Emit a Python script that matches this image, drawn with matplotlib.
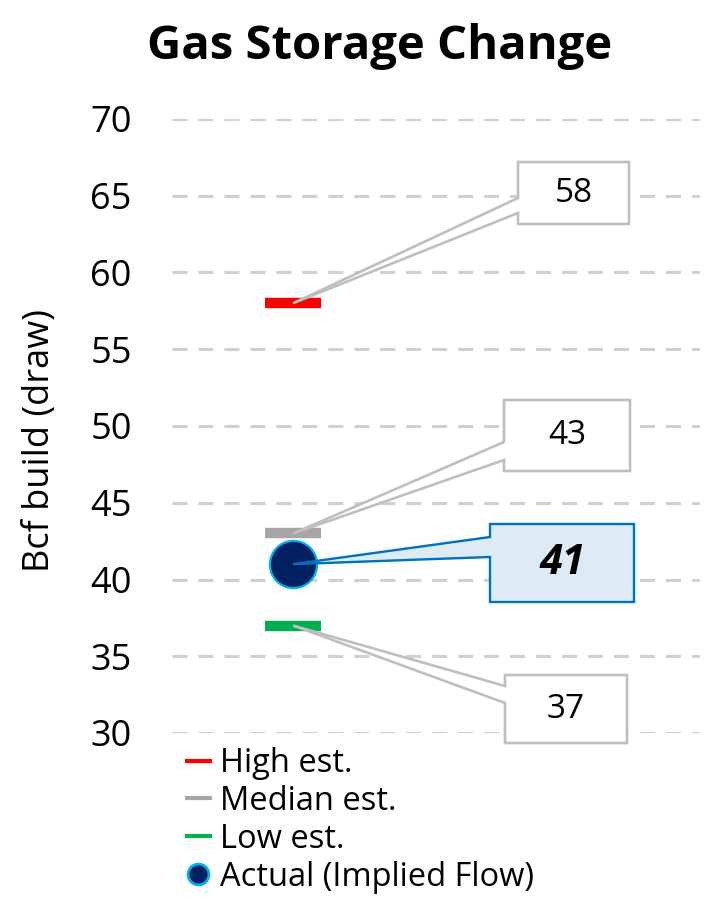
import matplotlib
matplotlib.use("Agg")
import matplotlib.pyplot as plt
from matplotlib.lines import Line2D
from matplotlib.patches import Polygon

# data
series_names = ["High est.", "Median est.", "Low est."]
series_values = [58, 43, 37]
series_colors = ["#FF0000", "#A6A6A6", "#00B050"]
actual_name = "Actual (Implied Flow)"
actual_value = 41
y_ticks = [30, 35, 40, 45, 50, 55, 60, 65, 70]

plt.rcParams['font.family'] = ['Open Sans', 'DejaVu Sans']

fig = plt.figure(figsize=(7.05, 9.0), dpi=100)
ax = fig.add_axes([172 / 705, 1 - 733 / 900, (700 - 172) / 705, (733 - 119) / 900])

X = 0
ax.set_xlim(-0.5, 1.68)
ax.set_ylim(30, 70)

# dashed horizontal grid
for t in y_ticks:
    ax.axhline(t, color="#D0D0D0", lw=2.2, ls=(0, (4.9, 3.6)), zorder=0)

# estimate bars
for v, c in zip(series_values, series_colors):
    ax.plot([X], [v], marker="_", markersize=41, markeredgewidth=7.5, color=c, ls="none", zorder=3)

# actual point
ax.plot([X], [actual_value], marker="o", markersize=34, markerfacecolor="#002060",
        markeredgecolor="#00B0F0", markeredgewidth=1.6, ls="none", zorder=4)

ax.set_yticks(y_ticks)
ax.set_yticklabels([str(t) for t in y_ticks], fontsize=26)
ax.tick_params(axis="y", length=0, pad=29)
ax.set_xticks([])
for s in ax.spines.values():
    s.set_visible(False)

ax.set_ylabel("Bcf build (draw)", fontsize=26)
ax.yaxis.set_label_coords(-(172 - 58) / 528, (733 - 441) / 614)
fig.text(380 / 705, 1 - 47 / 900, "Gas Storage Change", ha="center", va="center",
         fontsize=34, fontweight="bold")


# callout: rectangle with a wedge pointing to the data point (box in pixels of the axes)
def px_to_axes(px, py):
    return ((px - 172) / 528, (733 - py) / 614)


def callout(value, box, wedge, text, edge, face, lw, style):
    left, top, right, bottom = box
    w_hi, w_lo = wedge
    tip = ax.transAxes.inverted().transform(ax.transData.transform((X, value)))
    pts = [px_to_axes(left, top), px_to_axes(right, top), px_to_axes(right, bottom),
           px_to_axes(left, bottom), px_to_axes(left, w_lo), tuple(tip), px_to_axes(left, w_hi)]
    ax.add_patch(Polygon(pts, closed=True, transform=ax.transAxes, facecolor=face,
                         edgecolor=edge, lw=lw, clip_on=False, zorder=5, joinstyle="miter"))
    cx, cy = px_to_axes((left + right) / 2, (top + bottom) / 2)
    ax.text(cx, cy, text, transform=ax.transAxes, ha="center", va="center", zorder=6, **style)


plain = dict(fontsize=24, color="black")
callout(series_values[0], (518, 162, 629, 224), (198, 213), str(series_values[0]),
        "#BFBFBF", "white", 1.9, plain)
callout(series_values[1], (504, 400, 630, 471), (442, 460), str(series_values[1]),
        "#BFBFBF", "white", 1.9, plain)
callout(series_values[2], (505, 675, 627, 743), (686, 703), str(series_values[2]),
        "#BFBFBF", "white", 1.9, plain)
callout(actual_value, (490, 524, 634, 602), (537, 557), str(actual_value),
        "#0070C0", "#DDEBF7", 1.7,
        dict(fontsize=30, fontweight="bold", fontstyle="italic", color="black"))

# legend
handles = [Line2D([0], [0], color=c, lw=3) for c in series_colors]
handles.append(Line2D([0], [0], marker="o", ls="none", markersize=15, markerfacecolor="#002060",
                      markeredgecolor="#00B0F0", markeredgewidth=2))
fig.legend(handles, series_names + [actual_name], loc="upper left",
           bbox_to_anchor=(187 / 705, 1 - 747 / 900), frameon=False, fontsize=23.5,
           handlelength=0.7, handletextpad=0.3, labelspacing=0.15, borderpad=0, borderaxespad=0)

fig.savefig("out.png", dpi=100)
